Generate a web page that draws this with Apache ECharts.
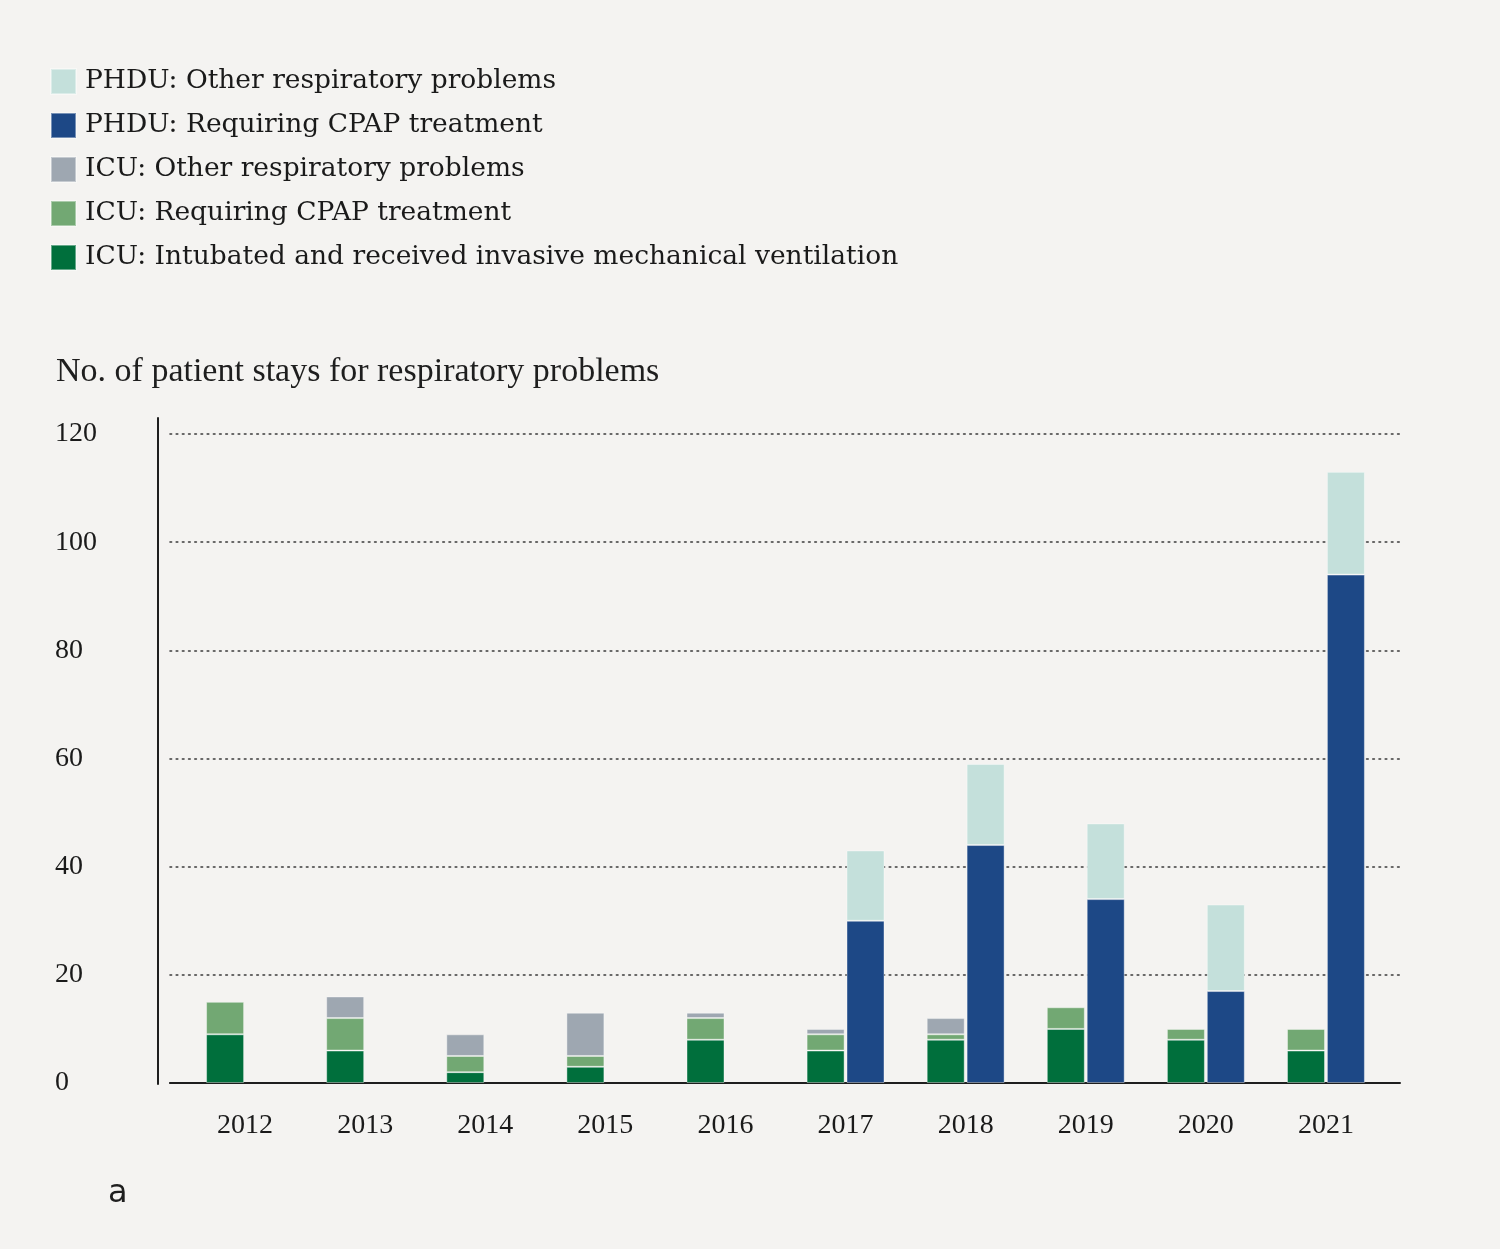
<!DOCTYPE html>
<html>
<head>
<meta charset="utf-8">
<script src="https://cdn.jsdelivr.net/npm/echarts@6/dist/echarts.min.js"></script>
<style>
html,body{margin:0;padding:0;background:#f4f3f1;}
#chart{width:1500px;height:1249px;}
</style>
</head>
<body>
<div id="chart"></div>
<script>
const years = ['2012','2013','2014','2015','2016','2017','2018','2019','2020','2021'];
const icuIntubated = [9, 6, 2, 3, 8, 6, 8, 10, 8, 6];
const icuCpap      = [6, 6, 3, 2, 4, 3, 1, 4, 2, 4];
const icuOther     = [0, 4, 4, 8, 1, 1, 3, 0, 0, 0];
const phduCpap     = [0, 0, 0, 0, 0, 30, 44, 34, 17, 94];
const phduOther    = [0, 0, 0, 0, 0, 13, 15, 14, 16, 19];
const yTicks = [0, 20, 40, 60, 80, 100, 120];

const names = {
  phduOther: 'PHDU: Other respiratory problems',
  phduCpap: 'PHDU: Requiring CPAP treatment',
  icuOther: 'ICU: Other respiratory problems',
  icuCpap: 'ICU: Requiring CPAP treatment',
  icuInt: 'ICU: Intubated and received invasive mechanical ventilation'
};
const colors = {
  phduOther: '#c4e0db',
  phduCpap: '#1d4886',
  icuOther: '#9ea7b1',
  icuCpap: '#72a873',
  icuInt: '#006f3c'
};
const FONT = 'DejaVu Serif';
const NUMFONT = 'Liberation Serif';
const chart = echarts.init(document.getElementById('chart'));

function bar(key, data, stack) {
  return {
    name: names[key], type: 'bar', stack: stack,
    data: data.map(v => (v === 0 ? '-' : v)),
    xAxisIndex: 1, yAxisIndex: 1,
    barWidth: 38, barGap: '5%',
    itemStyle: { color: colors[key], borderColor: 'rgba(255,255,255,0.4)', borderWidth: 1 },
    emphasis: { disabled: true }
  };
}

chart.setOption({
  backgroundColor: '#f4f3f1',
  animation: false,
  title: {
    text: 'No. of patient stays for respiratory problems',
    left: 51, top: 350,
    textStyle: { fontFamily: NUMFONT, fontSize: 34, fontWeight: 'normal', color: '#1e1e1e' }
  },
  legend: {
    orient: 'vertical', left: 45, top: 63,
    itemWidth: 25, itemHeight: 25, itemGap: 17,
    icon: 'rect',
    data: [names.phduOther, names.phduCpap, names.icuOther, names.icuCpap, names.icuInt],
    textStyle: { fontFamily: FONT, fontSize: 26.5, lineHeight: 25, color: '#1a1a1a', padding: [0, 0, 0, 4] },
    selectedMode: false
  },
  graphic: [{
    type: 'text', left: 108, top: 1178,
    style: { text: 'a', fontFamily: 'DejaVu Sans', fontSize: 32, fill: '#1e1e1e' }
  }],
  grid: [
    { left: 170, right: 100, top: 434, bottom: 166 },
    { left: 185, right: 114, top: 434, bottom: 166 },
    { left: 158, width: 1, top: 418, bottom: 165 }
  ],
  xAxis: [
    { gridIndex: 0, type: 'category', data: [''], axisLine: { show: true, lineStyle: { color: '#1e1e1e', width: 2 } },
      axisTick: { show: false }, axisLabel: { show: false } },
    { gridIndex: 1, type: 'category', data: years, axisLine: { show: false }, axisTick: { show: false },
      axisLabel: { fontFamily: NUMFONT, fontSize: 28, color: '#1a1a1a', margin: 29 } },
    { gridIndex: 2, type: 'category', data: [''], show: false }
  ],
  yAxis: [
    { gridIndex: 0, type: 'value', min: 0, max: 120, interval: 20,
      axisLine: { show: false }, axisTick: { show: false },
      axisLabel: { align: 'left', margin: 115, fontFamily: NUMFONT, fontSize: 28, color: '#1a1a1a',
        formatter: v => yTicks.includes(v) ? String(v) : '' },
      splitLine: { show: true, lineStyle: { color: '#3a3a3a', width: 1.6, type: [1.6, 4.6], cap: 'round' } } },
    { gridIndex: 1, type: 'value', min: 0, max: 120, interval: 20, show: false, splitLine: { show: false } },
    { gridIndex: 2, type: 'value', min: 0, max: 1, axisLine: { show: true, lineStyle: { color: '#1e1e1e', width: 2 } },
      axisTick: { show: false }, axisLabel: { show: false }, splitLine: { show: false } }
  ],
  series: [
    bar('icuInt', icuIntubated, 'icu'),
    bar('icuCpap', icuCpap, 'icu'),
    bar('icuOther', icuOther, 'icu'),
    bar('phduCpap', phduCpap, 'phdu'),
    bar('phduOther', phduOther, 'phdu')
  ]
});
</script>
</body>
</html>
